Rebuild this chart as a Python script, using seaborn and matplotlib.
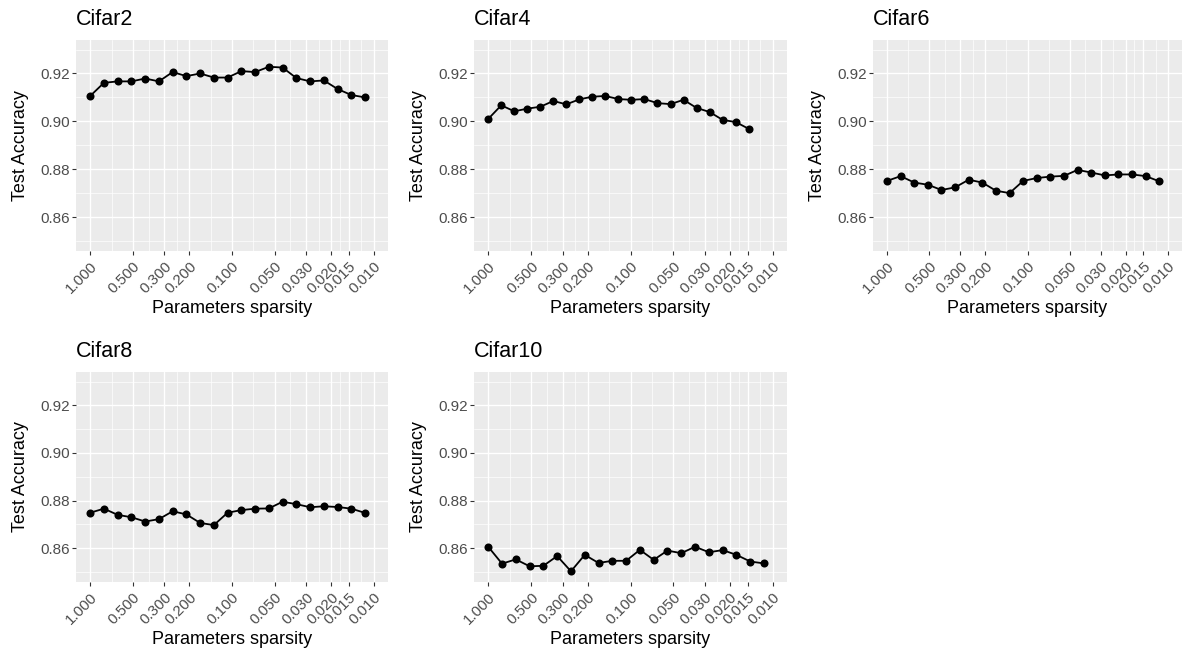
import numpy as np
import pandas as pd
import matplotlib
matplotlib.use("Agg")
import matplotlib.pyplot as plt
import matplotlib.ticker as mticker
import seaborn as sns

# ---------------- data ----------------
panels = ["Cifar2", "Cifar4", "Cifar6", "Cifar8", "Cifar10"]

sparsity_a = [1.000, 0.800, 0.640, 0.512, 0.4096, 0.3277, 0.2621, 0.2097, 0.1678, 0.1342,
              0.1074, 0.0859, 0.0687, 0.0550, 0.0440, 0.0352, 0.0281, 0.0225, 0.0180,
              0.0144, 0.0115]
sparsity_b = [1.000, 0.810, 0.6561, 0.5314, 0.4305, 0.3487, 0.2824, 0.2288, 0.1853, 0.1501,
              0.1216, 0.0985, 0.0798, 0.0646, 0.0523, 0.0424, 0.0343, 0.0278, 0.0225,
              0.0182, 0.0148]

acc_cifar2 = [0.9106, 0.9161, 0.9167, 0.9167, 0.9179, 0.9167, 0.9206, 0.9189, 0.9200, 0.9183,
              0.9183, 0.9210, 0.9206, 0.9228, 0.9225, 0.9181, 0.9167, 0.9171, 0.9135, 0.9110,
              0.9100]
acc_cifar4 = [0.9010, 0.9067, 0.9042, 0.9053, 0.9061, 0.9085, 0.9071, 0.9092, 0.9103, 0.9106,
              0.9093, 0.9090, 0.9093, 0.9076, 0.9072, 0.9090, 0.9056, 0.9039, 0.9006, 0.8997,
              0.8969]
acc_cifar6 = [0.8751, 0.8771, 0.8744, 0.8735, 0.8713, 0.8724, 0.8756, 0.8744, 0.8710, 0.8700,
              0.8751, 0.8763, 0.8769, 0.8772, 0.8797, 0.8786, 0.8774, 0.8778, 0.8778, 0.8771,
              0.8749]
acc_cifar8 = [0.8749, 0.8766, 0.8740, 0.8730, 0.8712, 0.8722, 0.8755, 0.8742, 0.8706, 0.8697,
              0.8749, 0.8760, 0.8766, 0.8767, 0.8795, 0.8785, 0.8772, 0.8776, 0.8773, 0.8766,
              0.8748]
acc_cifar10 = [0.8606, 0.8535, 0.8553, 0.8524, 0.8526, 0.8567, 0.8503, 0.8572, 0.8538, 0.8547,
               0.8547, 0.8593, 0.8551, 0.8590, 0.8579, 0.8606, 0.8583, 0.8592, 0.8572, 0.8544,
               0.8536]

x_breaks = [1.000, 0.500, 0.300, 0.200, 0.100, 0.050, 0.030, 0.020, 0.015, 0.010]
x_labels = ["1.000", "0.500", "0.300", "0.200", "0.100", "0.050", "0.030", "0.020", "0.015", "0.010"]
y_breaks = [0.86, 0.88, 0.90, 0.92]
y_labels = ["0.86", "0.88", "0.90", "0.92"]
y_minor = [0.85, 0.87, 0.89, 0.91, 0.93]

frames = []
for name, xs, ys in [("Cifar2", sparsity_a, acc_cifar2), ("Cifar4", sparsity_b, acc_cifar4),
                     ("Cifar6", sparsity_a, acc_cifar6), ("Cifar8", sparsity_a, acc_cifar8),
                     ("Cifar10", sparsity_a, acc_cifar10)]:
    frames.append(pd.DataFrame({"panel": name, "sparsity": xs, "acc": ys}))
df = pd.concat(frames, ignore_index=True)

# ---------------- style ----------------
sns.set_theme(style="darkgrid")
plt.rcParams["font.family"] = ["Liberation Sans", "DejaVu Sans"]

W, H = 1188, 652
fig = plt.figure(figsize=(W / 100, H / 100), dpi=100)

# pixel boxes (left, top, right, bottom)
boxes = {
    "Cifar2": (76, 40, 388, 251),
    "Cifar4": (474, 40, 787, 251),
    "Cifar6": (873, 40, 1182, 251),
    "Cifar8": (76, 372, 388, 582),
    "Cifar10": (474, 372, 787, 582),
}

lx = np.log10(x_breaks)
x_minor = list(10 ** ((lx[:-1] + lx[1:]) / 2))

for name in panels:
    l, t, r, b = boxes[name]
    ax = fig.add_axes([l / W, 1 - b / H, (r - l) / W, (b - t) / H])
    ax.set_facecolor("#EBEBEB")
    sub = df[df["panel"] == name]
    sns.lineplot(data=sub, x="sparsity", y="acc", ax=ax, color="black", linewidth=1.3,
                 marker="o", markersize=5.8, markeredgewidth=0, sort=False, zorder=3)
    ax.set_xscale("log")
    ax.set_xlim(10 ** 0.1, 10 ** -2.1)
    ax.set_ylim(0.8458, 0.934)

    ax.xaxis.set_major_locator(mticker.FixedLocator(x_breaks))
    ax.xaxis.set_minor_locator(mticker.FixedLocator(x_minor))
    ax.set_xticklabels(x_labels, rotation=45, ha="right", va="top", rotation_mode="anchor")
    ax.xaxis.set_minor_formatter(mticker.NullFormatter())
    ax.yaxis.set_major_locator(mticker.FixedLocator(y_breaks))
    ax.yaxis.set_minor_locator(mticker.FixedLocator(y_minor))
    ax.set_yticklabels(y_labels)

    ax.grid(which="major", color="white", linewidth=1.0)
    ax.grid(which="minor", color="white", linewidth=0.5)
    ax.set_axisbelow(True)
    for s in ax.spines.values():
        s.set_visible(False)

    ax.tick_params(which="major", length=3.1, width=0.8, color="#333333",
                   labelsize=11, labelcolor="#4D4D4D", pad=1.5)
    ax.tick_params(which="minor", length=0)
    ax.tick_params(axis="x", which="major", pad=3)
    ax.tick_params(axis="both", which="both", bottom=True, left=True)

    ax.set_xlabel("Parameters sparsity", fontsize=13, color="black", labelpad=3)
    ax.set_ylabel("Test Accuracy", fontsize=13, color="black", labelpad=8)
    ax.set_title(name, loc="left", fontsize=15.5, color="black", pad=11)

fig.savefig("out.png", dpi=100, facecolor="white")
